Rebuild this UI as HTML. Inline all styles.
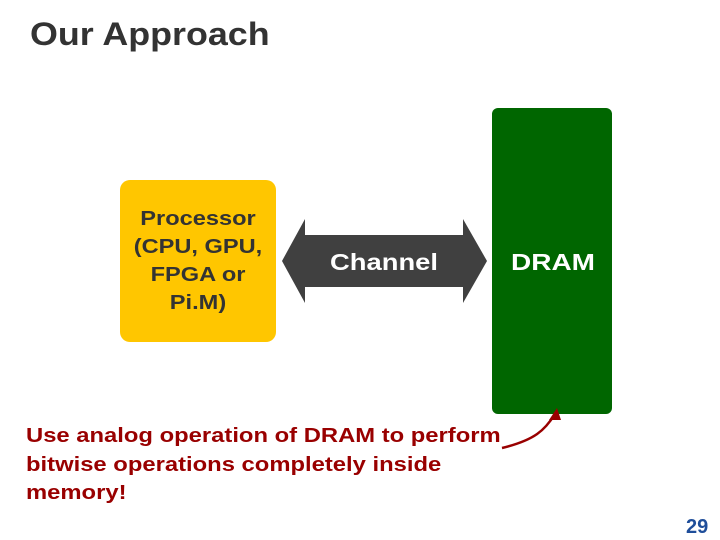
<!DOCTYPE html>
<html><head><style>
body{margin:0;width:720px;height:540px;background:#fff;position:relative;overflow:hidden;font-family:"Liberation Sans",Arial,sans-serif;font-weight:bold}
.t{position:absolute;white-space:nowrap}
</style></head><body>
<div class="t" style="left:30px;top:16px;font-size:32px;color:#333;transform:scaleX(1.12);transform-origin:left top">Our Approach</div>
<div class="t" style="left:120px;top:180px;width:156px;height:162px;background:#FFC600;border-radius:10px"></div>
<div class="t" style="left:118px;top:205px;width:160px;text-align:center;font-size:20px;line-height:28px;color:#333;transform:scaleX(1.18);transform-origin:center top">Processor<br>(CPU, GPU,<br>FPGA or<br>Pi.M)</div>
<div class="t" style="left:492px;top:108px;width:120px;height:306px;background:#006600;border-radius:6px"></div>
<svg class="t" style="left:0;top:0" width="720" height="540">
<polygon points="282,261 305,219 305,235 463,235 463,219 487,261 463,303 463,287 305,287 305,303" fill="#404040"/>
<text x="330" y="270" font-size="23" fill="#fff" textLength="108" lengthAdjust="spacingAndGlyphs" font-family="Liberation Sans,Arial,sans-serif" font-weight="bold">Channel</text>
<text x="511" y="270" font-size="23" fill="#fff" textLength="84" lengthAdjust="spacingAndGlyphs" font-family="Liberation Sans,Arial,sans-serif" font-weight="bold">DRAM</text>
<path d="M502,448 C535,440 545,430 555,414" stroke="#990000" stroke-width="2.5" fill="none"/>
<polygon points="557,408 549,420 561,420" fill="#990000"/>
</svg>
<div class="t" style="left:26px;top:422px;font-size:20px;line-height:28.5px;color:#990000;transform:scaleX(1.19);transform-origin:left top">Use analog operation of DRAM to perform<br>bitwise operations completely inside<br>memory!</div>
<div class="t" style="left:686px;top:516px;font-size:20px;color:#1f4e9a">29</div>
</body></html>
